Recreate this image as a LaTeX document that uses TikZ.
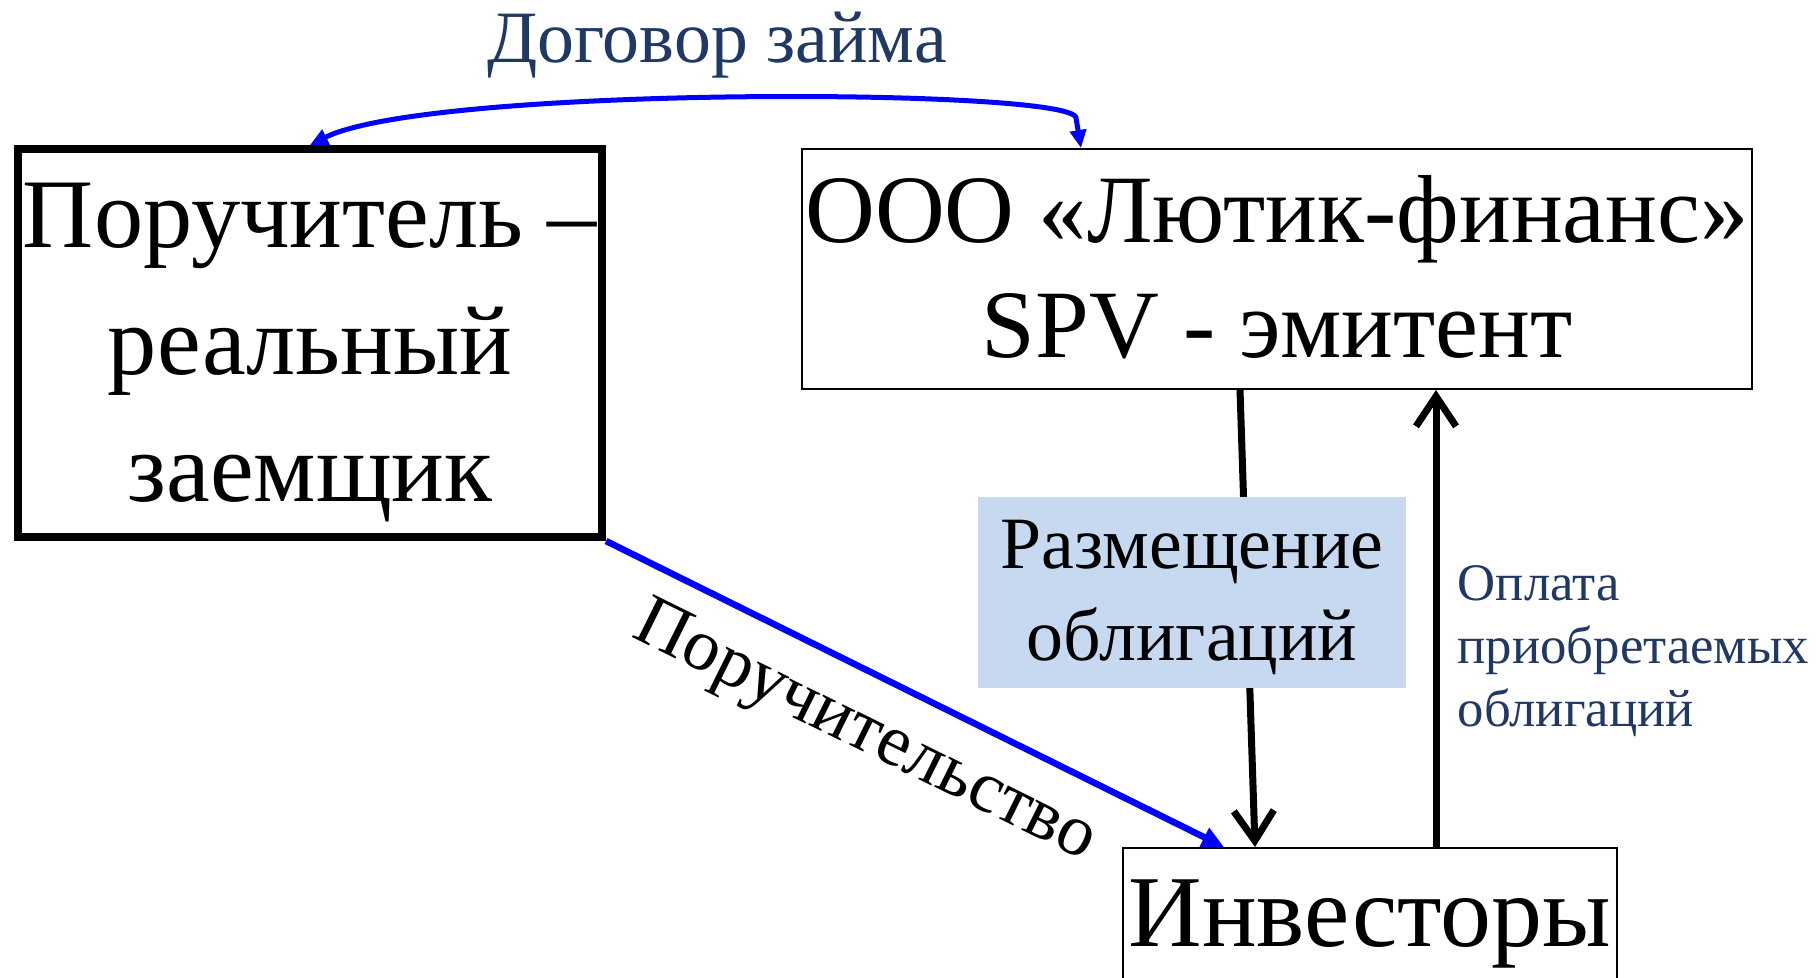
\documentclass[tikz,border=0pt]{standalone}
\usepackage{fontspec}
\setmainfont{Liberation Serif}
\usetikzlibrary{arrows.meta}
\definecolor{navy}{RGB}{31,56,100}
\definecolor{tagfill}{RGB}{198,217,241}
\tikzset{
  party/.style={draw, rectangle, align=center, inner xsep=0pt, inner ysep=0pt},
  flow/.style={line width=0.7mm, -{Straight Barb[length=3mm,width=4mm]}},
  bond/.style={blue, line width=0.65mm},
}
\begin{document}
\begin{tikzpicture}[x=0.1mm, y=-0.1mm]
    \useasboundingbox (0,0) rectangle (1818,977);
    % the three parties
    \node [party, line width=0.8mm, minimum width=58.4mm, text height=35.2mm, text depth=3.6mm,
        font=\fontsize{28}{36}\selectfont] (borrower) at (310,343) {Поручитель –\\реальный\\заемщик};
    \node [party, line width=0.2mm, minimum width=95mm, text height=20.8mm, text depth=3.2mm,
        font=\fontsize{27.5}{32.7}\selectfont] (spv) at (1277,269) {ООО «Лютик-финанс»\\SPV - эмитент};
    \node [party, line width=0.2mm, minimum width=49.4mm, text height=9.8mm, text depth=6mm,
        anchor=north, font=\fontsize{29}{32}\selectfont] (investors) at (1370,847) {Инвесторы};
    % labels
    \node [text=navy, anchor=base, font=\fontsize{21}{25}\selectfont] (loanlabel) at (717,62) {Договор займа};
    \node [text=navy, align=left, anchor=west, inner sep=0pt,
        font=\fontsize{15}{17.9}\selectfont] (paylabel) at (1457,651) {Оплата\\приобретаемых\\облигаций};
    % bonds out, money in
    \coordinate (placetop) at ([xshift=-3.7mm]spv.south);
    \coordinate (placefoot) at ([xshift=-11.5mm]investors.north);
    \coordinate (payfoot) at ([xshift=6.6mm]investors.north);
    \draw [flow] (placetop) -- (placefoot);
    \draw [flow] (payfoot) -- (payfoot |- spv.south);
    % guarantee and loan
    \draw [bond, -{Triangle[length=2.2mm,width=2mm]}] (borrower.south east)
        -- node [sloped, below=1.2mm, pos=0.46, black, font=\fontsize{20.8}{24}\selectfont] (guaranteelabel) {Поручительство}
        ([xshift=-14.6mm]investors.north);
    \draw [bond, line width=0.5mm, {Triangle[length=1.8mm,width=1.6mm]}-{Triangle[length=1.8mm,width=1.6mm]}]
        (borrower.north) .. controls (430,85) and (1075,88) .. (1076,118) -- ([xshift=28mm]spv.north west);
    \node [fill=tagfill, minimum width=42.8mm, text height=16.3mm, text depth=2.8mm, inner ysep=0pt,
        align=center, font=\fontsize{21}{25.9}\selectfont] (placelabel) at (1192,592.5) {Размещение\\облигаций};
\end{tikzpicture}
\end{document}
